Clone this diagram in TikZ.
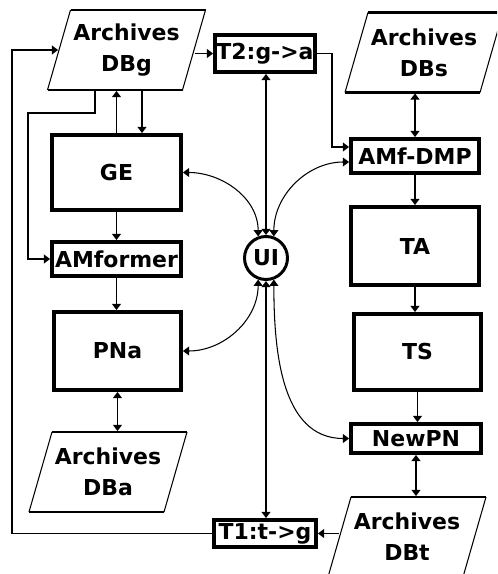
\documentclass[tikz,border=0pt]{standalone}
\usepackage{fontspec}
\setmainfont{DejaVu Sans}
\usetikzlibrary{arrows.meta,calc}

\begin{document}
\begin{tikzpicture}[x=0.02cm, y=-0.02cm, line width=1.1pt,
    >={Triangle[length=3.5pt,width=5pt]},
    testo/.style={font=\bfseries\fontsize{12.5}{17.5}\selectfont},
    blocco/.style={testo, draw, line width=2.2pt, inner sep=0pt},
    archivio/.style={testo, align=center, inner sep=0pt,
                     minimum width=2.7cm, minimum height=1.6cm},
    bordo/.style={line width=1.7pt},
    curva/.style={line width=0.6pt}]

    % Cornice: misure in pixel del disegno originale
    \useasboundingbox (0,0) rectangle (497,574);
    \fill[white] (0,0) rectangle (497,574);
    \clip (0,0) rectangle (497,574);

    % Comando \archivio: nome, x, y, etichetta (parallelogramma)
    \newcommand{\archivio}[4]{
        \node[archivio] (#1) at (#2, #3) {Archives\\#4};
        \draw[bordo] (#2-56, #3-40) -- (#2+79, #3-40);
        \draw[bordo] (#2-79, #3+40) -- (#2+56, #3+40);
        \draw[curva] (#2+79, #3-40) -- (#2+56, #3+40);
        \draw[curva] (#2-56, #3-40) -- (#2-79, #3+40);
    }

    % -- Colonna sinistra --
    \archivio{DBg}{126.5}{50}{DBg}
    \node[blocco, minimum width=2.58cm, minimum height=1.5cm] (GE) at (116.5, 172.5) {GE};
    \node[blocco, minimum width=2.58cm, minimum height=0.68cm] (AMformer) at (116.5, 259) {AMformer};
    \node[blocco, minimum width=2.54cm, minimum height=1.56cm] (PNa) at (117.5, 351) {PNa};
    \archivio{DBa}{108}{472}{DBa}

    % -- Parte centrale --
    \node[blocco, minimum width=2cm, minimum height=0.74cm] (T2) at (265, 53.5) {T2:g->a};
    \node[testo, circle, draw, line width=1.7pt, minimum size=0.86cm, inner sep=0pt] (UI) at (266, 258) {UI};
    \node[blocco, minimum width=2.04cm, minimum height=0.54cm] (T1) at (265, 533.5) {T1:t->g};

    % -- Colonna destra --
    \archivio{DBs}{424}{52.5}{DBs}
    \node[blocco, minimum width=2.56cm, minimum height=0.68cm] (AMfDMP) at (415, 156) {AMf-DMP};
    \node[blocco, minimum width=2.56cm, minimum height=1.56cm] (TA) at (415, 246) {TA};
    \node[blocco, minimum width=2.54cm, minimum height=1.52cm] (TS) at (417.5, 352) {TS};
    \node[blocco, minimum width=2.6cm, minimum height=0.58cm] (NewPN) at (416, 438.5) {NewPN};
    \archivio{DBt}{407}{537}{DBt}

    % Punti di appoggio dei ritorni a sinistra
    \coordinate (angolo) at (12, 50);
    \coordinate (uscitaDBg) at (95, 90);
    \coordinate (gomito) at (28, 113);

    % -- Frecce a sinistra --
    \draw[->] (T1.west) -| (angolo) -- (DBg.west);
    \draw[->] (uscitaDBg) |- (gomito) |- (AMformer.west);
    \draw[->] (GE.north) -- (GE.north |- DBg.south);
    \draw[->] ($(DBg.south)+(15.5,0)$) -- ($(GE.north)+(25.5,0)$);
    \draw[->] (GE.south) -- (AMformer.north);
    \draw[->] (AMformer.south) -- (AMformer.south |- PNa.north);
    \draw[<->] (PNa.south) -- (PNa.south |- DBa.north);

    % -- Frecce a destra --
    \draw[->] (DBg.east |- T2.west) -- (T2.west);
    \draw[->] (T2.east) -- ++(15,0) |- ($(AMfDMP.west)+(0,-9)$);
    \draw[<->] (AMfDMP.north) -- (AMfDMP.north |- DBs.south);
    \draw[->] (AMfDMP.south) -- (TA.north);
    \draw[->] (TA.south) -- (TA.south |- TS.north);
    \draw[->] (TS.south) -- (TS.south |- NewPN.north);
    \draw[<->] (NewPN.south) -- (NewPN.south |- DBt.north);
    \draw[->] (DBt.west |- T1.east) -- (T1.east);

    % -- UI al centro --
    \draw[<->] (UI.north) -- (UI.north |- T2.south);
    \draw[<->] (UI.south) -- (UI.south |- T1.north);
    \draw[curva, <->] (UI.110) to[out=90, in=0] (GE.east);
    \draw[curva, <->] (UI.70) to[out=90, in=180] ($(AMfDMP.west)+(0,6)$);
    \draw[curva, <->] (UI.-110) to[out=-90, in=0] (PNa.east);
    \draw[curva, <->] (UI.-70) to[out=-90, in=180] (NewPN.west);

\end{tikzpicture}
\end{document}
